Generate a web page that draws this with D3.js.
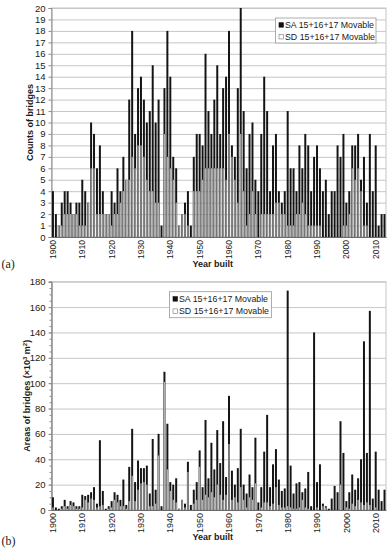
<!DOCTYPE html>
<html>
<head>
<meta charset="utf-8">
<script src="https://d3js.org/d3.v7.min.js"></script>
<style>
  body { margin: 0; background: #fff; }
  text { font-family: "Liberation Sans", Arial, sans-serif; fill: #1a1a1a; }
  .grid line { stroke: #c6c6c6; }
  .grid .domain { display: none; }
  .yaxis .domain, .yaxis line { stroke: #8a8a8a; }
  .yaxis text { font-size: 9.5px; }
  .xaxis .domain { stroke: #6a6a6a; }
  .title { font-size: 9px; font-weight: bold; }
  .legend text { font-size: 8.8px; }
  .tag { font-family: "Liberation Serif", "Times New Roman", serif; font-size: 12px; }
</style>
</head>
<body>
<svg width="392" height="550"></svg>
<script>
const years = d3.range(1900, 2014);
const decades = d3.range(1900, 2011, 10);

// (a) counts of bridges per year built
const countSA = [4,2,1,3,4,4,3,2,3,3, 5,4,3,10,9,6,8,4,2,2, 4,3,6,4,7,5,12,18,9,13,
  14,12,10,11,15,10,12,1,13,18, 14,7,6,1,2,3,4,1,7,9, 9,8,16,11,9,12,15,9,13,14,
  18,8,7,13,20,11,6,9,10,5, 4,9,14,11,4,8,9,4,3,4, 11,6,6,4,8,6,9,8,4,7,
  8,6,4,5,2,4,4,8,7,9, 3,4,8,8,9,5,7,3,9,4, 8,1,2,2];
const countSD = [0,0,1,1,2,2,2,2,2,1, 1,1,3,6,6,2,2,2,2,2, 1,2,2,3,4,5,5,7,6,8,
  8,7,5,4,4,3,3,0,9,7, 6,5,3,1,2,2,1,0,4,4, 4,5,6,6,6,6,6,6,6,5,
  9,7,5,3,9,4,1,2,4,2, 0,2,2,2,2,2,3,3,2,2, 1,1,1,2,2,3,2,1,1,1,
  1,1,0,0,0,0,0,0,0,1, 1,2,6,5,6,4,1,1,0,0, 0,0,0,0];

// (b) areas of bridges per year built (x 10^3 m2)
const areaSA = [10,2,1,3,8,3,7,6,3,3, 12,11,12,14,18,5,55,15,1,3, 7,14,12,8,24,4,34,64,22,39,
  33,33,35,13,56,16,60,3,109,68, 22,20,25,1,8,5,38,4,16,22, 47,18,71,25,53,32,63,37,70,26,
  90,31,20,33,64,20,13,28,18,57, 6,18,46,75,18,36,48,24,15,17, 173,35,13,21,22,14,17,30,3,140,
  22,36,5,3,1,9,19,14,70,45, 7,14,28,16,25,40,133,45,157,9, 46,16,7,16];
const areaSD = [2,0,0,1,3,1,4,3,1,1, 2,8,6,9,8,2,3,4,0,1, 2,8,6,3,3,1,7,27,7,16,
  21,22,20,3,3,5,43,0,101,32, 15,8,6,1,8,2,30,0,5,8, 34,8,12,10,14,10,20,12,8,12,
  52,8,10,6,18,8,2,10,8,21, 0,2,6,6,3,5,18,4,2,2, 3,2,1,1,2,8,2,1,0,0,
  2,0,3,2,0,0,0,0,20,0, 2,1,5,3,8,6,4,6,4,0, 2,0,0,0];

const seriesNames = ['SA 15+16+17 Movable', 'SD 15+16+17 Movable'];

const svg = d3.select('svg');
const left = 51.5, right = 386;

const x = d3.scaleBand().domain(years).range([left, right]).paddingInner(0).paddingOuter(0);
const bw = x.bandwidth();

function panel(cfg) {
  const y = d3.scaleLinear().domain([0, cfg.max]).range([cfg.bottom, cfg.top]);
  const g = svg.append('g');

  g.append('g').attr('class', 'grid')
    .attr('transform', `translate(${left},0)`)
    .call(d3.axisLeft(y).tickValues(cfg.ticks).tickSize(-(right - left)).tickFormat(''));

  g.append('rect')
    .attr('x', left).attr('y', cfg.top)
    .attr('width', right - left).attr('height', cfg.bottom - cfg.top)
    .attr('fill', 'none').attr('stroke', '#c6c6c6');

  if (cfg.minor) {
    g.append('g').attr('class', 'yaxis')
      .attr('transform', `translate(${left},0)`)
      .call(d3.axisLeft(y).tickValues(cfg.minor).tickSize(2).tickFormat(''));
  }
  g.append('g').attr('class', 'yaxis')
    .attr('transform', `translate(${left},0)`)
    .call(d3.axisLeft(y).tickValues(cfg.ticks).tickSize(3).tickPadding(3));

  const rows = years.map((yr, i) => ({ yr, sa: cfg.sa[i], sd: cfg.sd[i] }));
  g.selectAll('rect.sa').data(rows).enter().append('rect')
    .attr('class', 'sa')
    .attr('x', d => x(d.yr) + 0.45)
    .attr('width', bw - 0.95)
    .attr('y', d => y(d.sa))
    .attr('height', d => y(0) - y(d.sa))
    .attr('fill', '#141414');
  g.selectAll('rect.sd').data(rows.filter(d => d.sd > 0)).enter().append('rect')
    .attr('class', 'sd')
    .attr('x', d => x(d.yr) + 0.8)
    .attr('width', bw - 1.6)
    .attr('y', d => y(d.sd))
    .attr('height', d => y(0) - y(d.sd))
    .attr('fill', '#b0b0b0');

  const xa = g.append('g').attr('class', 'xaxis')
    .attr('transform', `translate(0,${cfg.bottom})`)
    .call(d3.axisBottom(x).tickValues(decades).tickSize(0));
  xa.selectAll('text')
    .style('font-size', cfg.xFont + 'px')
    .attr('transform', 'rotate(-90)')
    .attr('text-anchor', 'end')
    .attr('x', -3).attr('y', 0).attr('dy', '0.35em');

  g.append('text').attr('class', 'title')
    .attr('x', (left + right) / 2 - 6).attr('y', cfg.xTitleY)
    .attr('text-anchor', 'middle').text('Year built');

  const yt = g.append('text').attr('class', 'title')
    .attr('transform', `translate(${cfg.yTitleX},${(cfg.top + cfg.bottom) / 2}) rotate(-90)`)
    .attr('text-anchor', 'middle');
  cfg.yTitle(yt);

  g.append('text').attr('class', 'tag')
    .attr('x', 1.5).attr('y', cfg.tagY).text(cfg.tag);

  const lg = g.append('g').attr('class', 'legend')
    .attr('transform', `translate(${cfg.legend[0]},${cfg.legend[1]})`);
  lg.append('rect').attr('width', cfg.legend[2]).attr('height', cfg.legend[3])
    .attr('fill', '#fff').attr('stroke', '#9a9a9a').attr('stroke-width', 0.8);
  seriesNames.forEach((name, i) => {
    const cy = cfg.legend[3] * (i === 0 ? 0.28 : 0.75);
    lg.append('rect').attr('x', 3.5).attr('y', cy - 2.3).attr('width', 4.5).attr('height', 4.5)
      .attr('fill', i === 0 ? '#111' : '#fff').attr('stroke', i === 0 ? '#111' : '#777')
      .attr('stroke-width', 0.6);
    lg.append('text').attr('x', 9.5).attr('y', cy).attr('dy', '0.35em').text(name);
  });
}

panel({
  top: 8, bottom: 237, max: 20, ticks: d3.range(0, 21, 1),
  sa: countSA, sd: countSD, xFont: 8.5, xTitleY: 266.5, yTitleX: 32.5, tagY: 268, tag: '(a)',
  legend: [275.5, 18, 100.5, 25],
  yTitle: t => t.text('Counts of bridges')
});

panel({
  top: 281.7, bottom: 510, max: 180, ticks: d3.range(0, 181, 20), minor: d3.range(0, 181, 5),
  sa: areaSA, sd: areaSD, xFont: 9, xTitleY: 539.5, yTitleX: 29.5, tagY: 545, tag: '(b)',
  legend: [169.5, 291.7, 102, 26],
  yTitle: t => {
    t.append('tspan').text('Areas of bridges (\u00d710');
    t.append('tspan').attr('dy', -3).style('font-size', '6px').text('3');
    t.append('tspan').attr('dy', 3).text(' m');
    t.append('tspan').attr('dy', -3).style('font-size', '6px').text('2');
    t.append('tspan').attr('dy', 3).text(')');
  }
});
</script>
</body>
</html>
